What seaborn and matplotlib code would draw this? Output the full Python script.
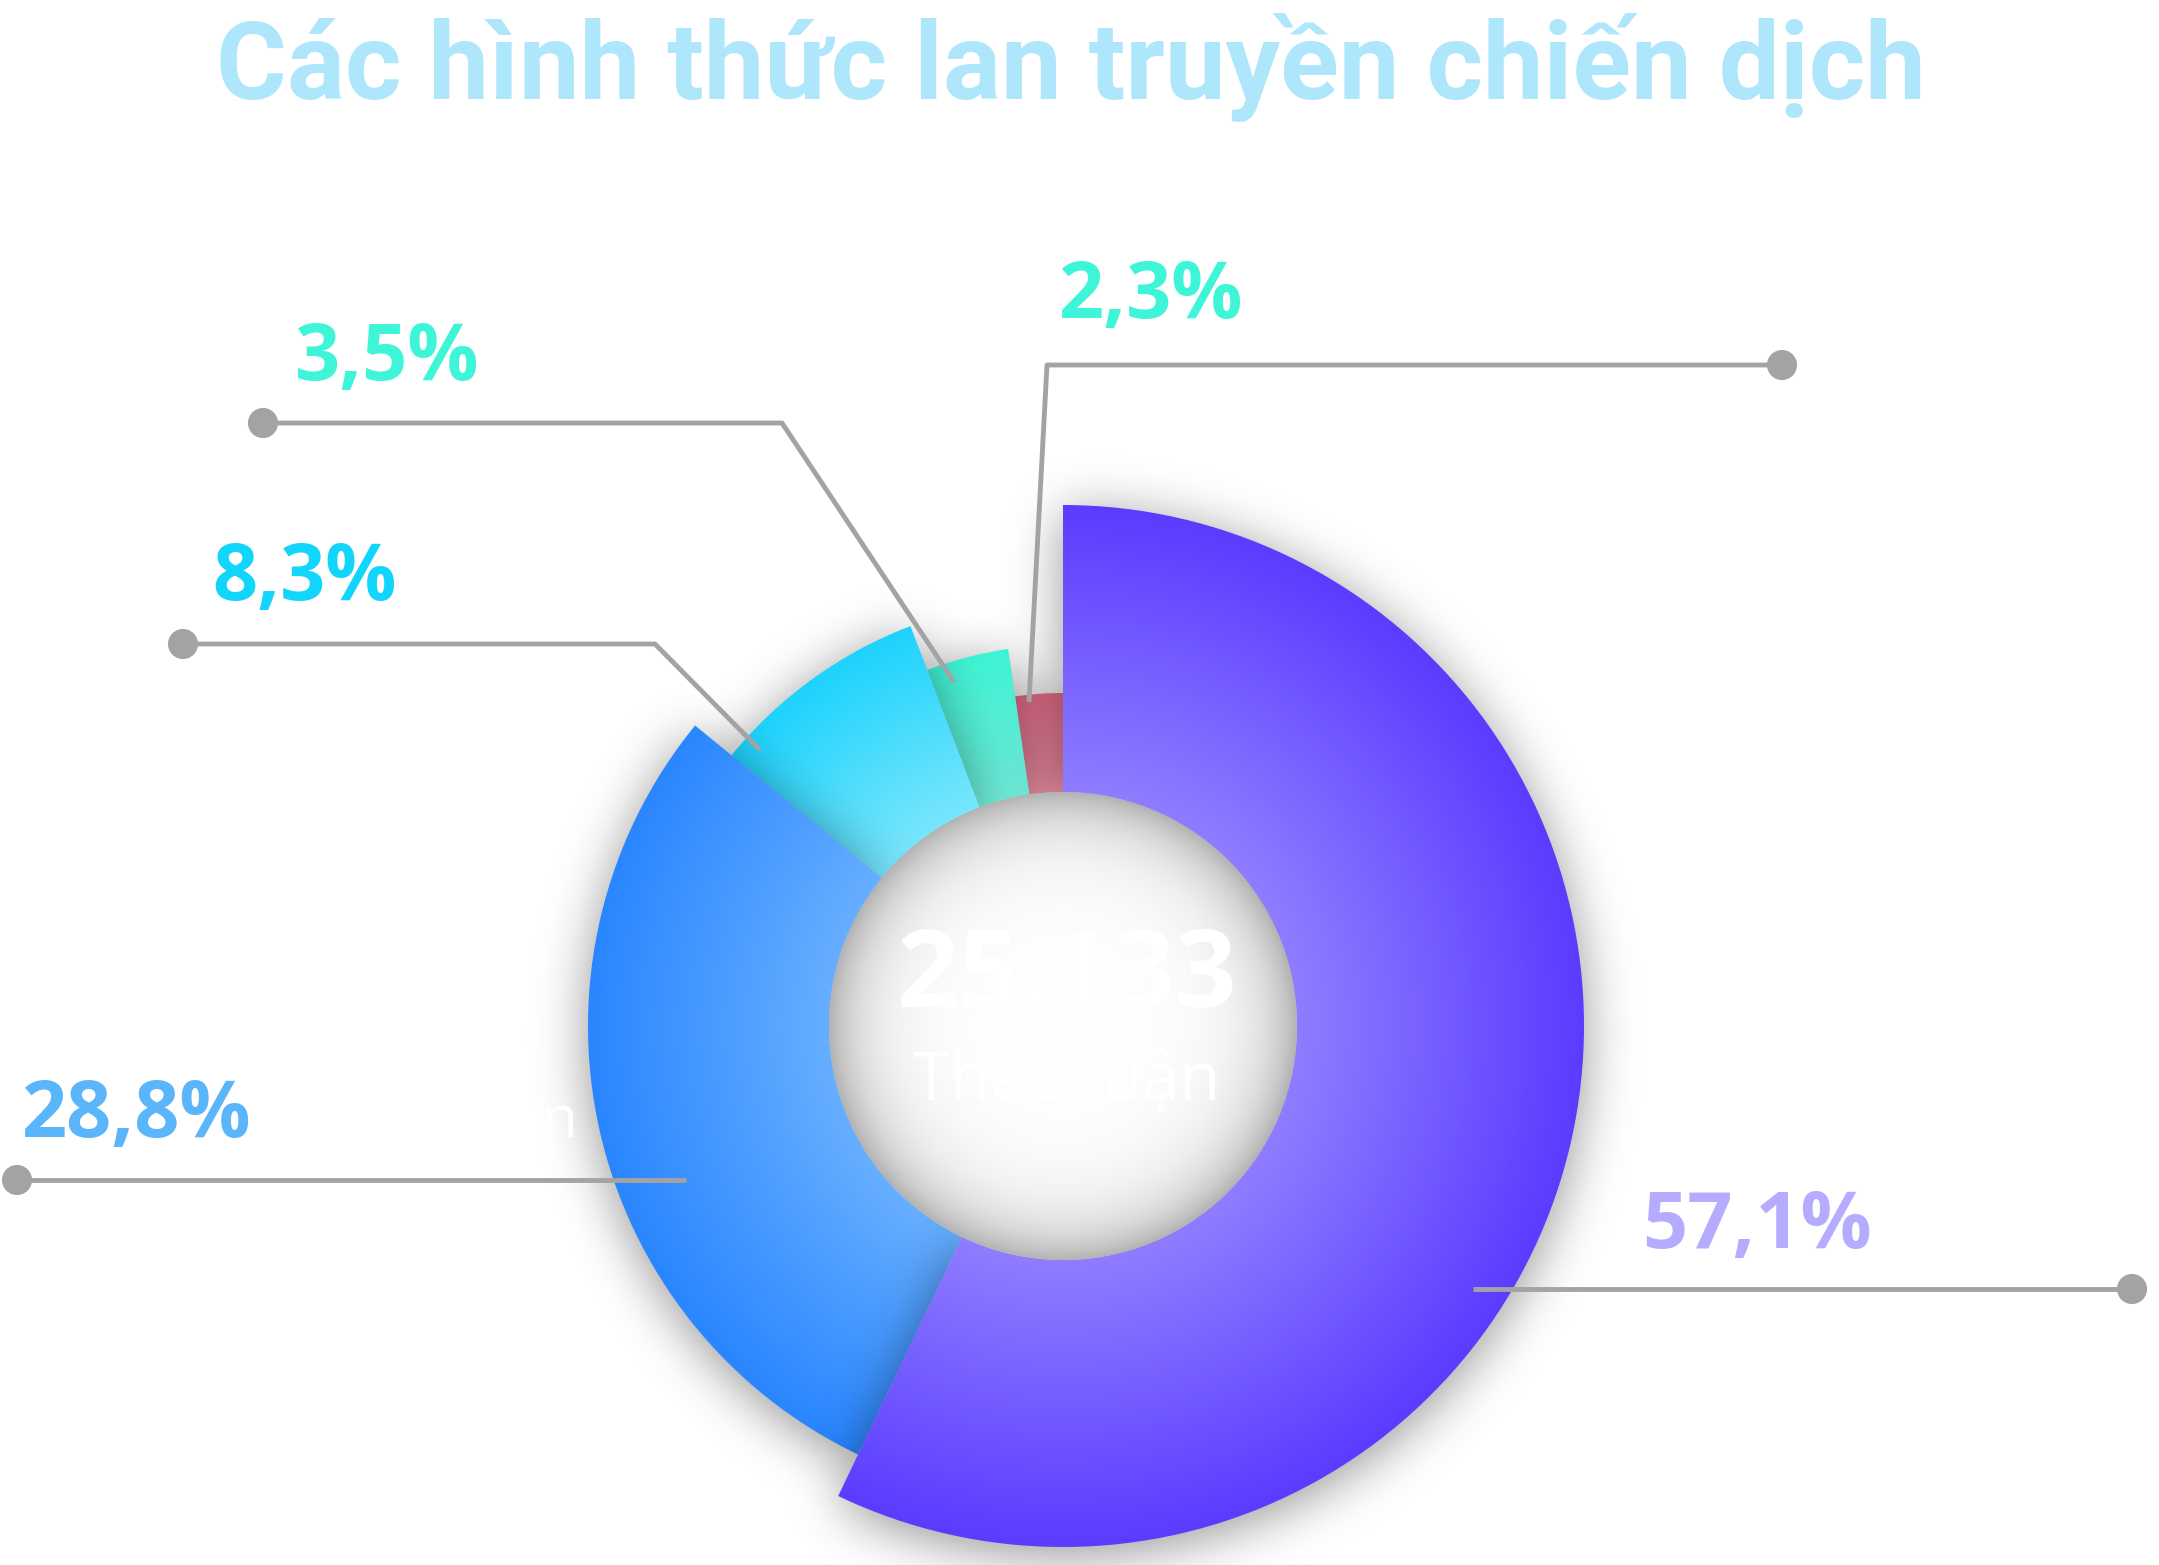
import numpy as np
import matplotlib
matplotlib.use("Agg")
import matplotlib.pyplot as plt
from matplotlib.patches import Wedge, Circle
import seaborn as sns

# ---- data ----
title = "Các hình thức lan truyền chiến dịch"
categories = ["Hình ảnh", "Video ngắn", "Video dài", "Livestream", "Hoạt động Fanpage"]
shares = [57.1, 28.8, 8.3, 3.5, 2.3]
total_value = "25.133"
total_label = "Thảo luận"

# ---- style / layout (pixel units of the 2159x1565 canvas) ----
W, H = 2159, 1565
cx, cy = 1063, 1026
inner_r = 234
outer_r = [521, 475, 428, 381, 333]
inner_cols = ["#8f7dff", "#66aeff", "#78e6fc", "#70ead8", "#e88ea2"]
outer_cols = ["#5a3cff", "#2a86ff", "#1dd3fc", "#3ef4d4", "#df6a85"]
pct_cols = ["#b5acff", "#5ab5fb", "#12d5fb", "#3ef5d8", "#3ef5d8"]
pct_pos = [(1642, 1248), (21, 1137), (212, 600), (295, 380), (1058, 318)]
name_x = [1890, 274, 418, 496, 1270]
leader_pts = [
    [(1473, 1289), (2132, 1289)],
    [(686, 1180), (17, 1180)],
    [(760, 750), (655, 644), (183, 644)],
    [(954, 682), (782, 423), (263, 423)],
    [(1029, 702), (1047, 365), (1782, 365)],
]
line_col = "#a3a3a3"

sns.set_theme(style="white")
plt.rcParams["font.family"] = ["Open Sans", "DejaVu Sans"]

def pct_text(v):
    return f"{v:.1f}".replace(".", ",") + "%"

def blur(img, sigma):
    pad = int(3 * sigma)
    a = np.pad(img, pad)
    fy = np.fft.fftfreq(a.shape[0])[:, None]
    fx = np.fft.rfftfreq(a.shape[1])[None, :]
    g = np.exp(-2 * (np.pi * sigma) ** 2 * (fx ** 2 + fy ** 2))
    out = np.fft.irfft2(np.fft.rfft2(a) * g, s=a.shape)
    return out[pad:-pad, pad:-pad]

fig = plt.figure(figsize=(W / 100, H / 100), dpi=100)
ax = fig.add_axes([0, 0, 1, 1])
ax.set_xlim(0, W)
ax.set_ylim(H, 0)
ax.axis("off")

# angles clockwise from 12 o'clock
total = sum(shares)
bounds = np.concatenate([[0], np.cumsum(shares)]) / total * 360
starts, ends = bounds[:-1], bounds[1:]

# pixel grid around the donut
x0, x1, y0, y1 = 380, 1750, 380, H
X, Y = np.meshgrid(np.arange(x0, x1) + 0.5, np.arange(y0, y1) + 0.5)
rr = np.hypot(X - cx, Y - cy)
ang = np.degrees(np.arctan2(X - cx, -(Y - cy))) % 360
extent = (x0, x1, y1, y0)

# smallest slice first so each bigger slice throws its shadow on the next one
for i in np.argsort(outer_r):
    s, e, R = starts[i], ends[i], outer_r[i]
    mask = ((ang >= s) & (ang < e) & (rr >= inner_r) & (rr <= R)).astype(float)
    sh = blur(np.roll(mask, 8, axis=0), 26)
    shadow = np.zeros(mask.shape + (4,), dtype=np.float32)
    shadow[..., 3] = np.clip(sh * 0.42, 0, 1)
    ax.imshow(shadow, extent=extent, origin="upper", interpolation="bilinear", zorder=1)

    cmap = sns.blend_palette([inner_cols[i], outer_cols[i]], as_cmap=True)
    t = np.clip((rr - inner_r) / (R - inner_r), 0, 1)
    im = ax.imshow(cmap(t).astype(np.float32), extent=extent, origin="upper",
                   interpolation="bilinear", zorder=1)
    wedge = Wedge((cx, cy), R, s - 90, e - 90, width=R - inner_r,
                  transform=ax.transData, facecolor="none", edgecolor="none")
    ax.add_patch(wedge)
    im.set_clip_path(wedge)

# centre disc with soft inner rim
disc = np.ones(rr.shape + (3,), dtype=np.float32)
shade = 1 - 0.30 * np.exp(-np.clip(inner_r - rr, 0, None) / 38)
disc *= shade[..., None]
im = ax.imshow(disc, extent=extent, origin="upper", interpolation="bilinear", zorder=2)
hole = Circle((cx, cy), inner_r, transform=ax.transData, facecolor="none", edgecolor="none")
ax.add_patch(hole)
im.set_clip_path(hole)

ax.text(cx + 4, 979, total_value, ha="center", va="center", fontsize=78,
        fontweight="bold", color="white", zorder=6)
ax.text(cx + 4, 1082, total_label, ha="center", va="center", fontsize=48,
        color="white", zorder=6)

# leader lines, dots and labels
for i, pts in enumerate(leader_pts):
    xs = [p[0] for p in pts]
    ys = [p[1] for p in pts]
    ax.plot(xs, ys, color=line_col, lw=3.5, solid_capstyle="butt", zorder=5)
    ax.scatter([xs[-1]], [ys[-1]], s=470, color=line_col, edgecolor="none", zorder=5)
    px, py = pct_pos[i]
    ax.text(px, py, pct_text(shares[i]), ha="left", va="baseline", fontsize=57,
            fontweight="bold", color=pct_cols[i], zorder=6)
    ax.text(name_x[i], py, categories[i], ha="left", va="baseline", fontsize=42,
            color="white", zorder=6)

ax.text(1071, 99, title, ha="center", va="baseline", fontsize=78,
        fontweight="bold", color="#aee6fb", family=["Roboto", "DejaVu Sans"], zorder=6)

fig.savefig("out.png", dpi=100, facecolor="white")
